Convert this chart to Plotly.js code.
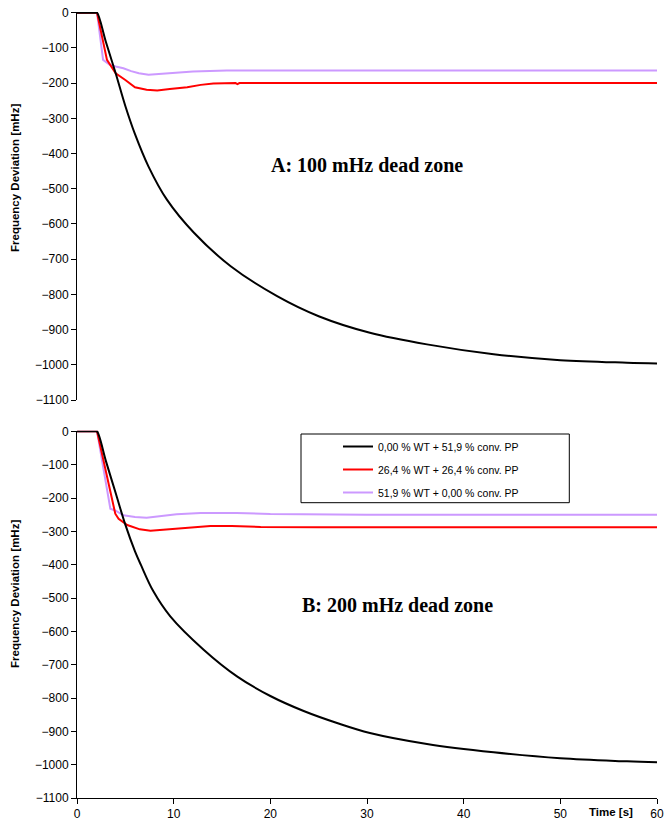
<!DOCTYPE html>
<html>
<head>
<meta charset="utf-8">
<script src="https://cdn.plot.ly/plotly-3.0.1.min.js"></script>
<style>
  html, body { margin: 0; padding: 0; background: #ffffff; }
  #chart { width: 664px; height: 825px; }
</style>
</head>
<body>
<div id="chart"></div>
<script>
// ---- Data ----
const seriesNames = [
  "0,00 % WT + 51,9 % conv. PP",
  "26,4 % WT + 26,4 % conv. PP",
  "51,9 % WT + 0,00 % conv. PP"
];
const panelLabels = ["A: 100 mHz dead zone", "B: 200 mHz dead zone"];
const yTitle = "Frequency Deviation [mHz]";
const xTitle = "Time [s]";

// Panel A (100 mHz dead zone)
const tBlackA = [0, 1.9, 2.07, 3, 4, 5, 6, 7.4, 9.3, 12.1, 15.9, 20.7, 25, 30.3, 36.2, 43.1, 50, 56.9, 60];
const vBlackA = [0, 0, 0, -84, -172, -265, -345, -437, -531, -625, -720, -805, -862, -909, -942, -970, -987, -994, -996];
const tRedA = [0, 2.07, 3.1, 3.5, 4, 5, 6, 7.2, 8.3, 9.6, 11.4, 12.8, 14.1, 16.4, 16.6, 16.8, 19, 60];
const vRedA = [0, 0, -134, -152, -172, -191, -212, -219, -221, -217, -212, -205, -201, -200, -203, -200, -200, -200];
const tPurpleA = [0, 2.07, 2.7, 3.4, 4, 4.8, 5.6, 6.4, 7.4, 8.5, 9.3, 12, 15.5, 60];
const vPurpleA = [0, 0, -134, -148, -153, -158, -166, -172, -176, -174, -172, -167, -164, -164];

// Panel B (200 mHz dead zone)
const tBlackB = [0, 1.9, 2.07, 3, 4, 5, 6, 6.6, 7.9, 9.65, 13.1, 16.55, 20, 23.45, 26.9, 30.3, 36.2, 43.1, 50, 56.9, 60];
const vBlackB = [0, 0, 0, -90, -185, -280, -360, -400, -480, -555, -655, -735, -794, -839, -875, -905, -938, -963, -981, -990, -993];
const tRedB = [0, 2.07, 3.96, 4.3, 5.2, 6.5, 7.6, 9.6, 12, 13.8, 16, 19, 25, 60];
const vRedB = [0, 0, -247, -262, -281, -294, -298, -294, -288, -284, -284, -287, -288, -288];
const tPurpleB = [0, 2.07, 3.45, 4, 4.8, 6, 7.2, 8.6, 10.3, 12.8, 16.5, 20, 30, 60];
const vPurpleB = [0, 0, -232, -238, -252, -257, -259, -255, -249, -245, -245, -248, -250, -250];

const colors = ["#000000", "#FF0000", "#CC99FF"];
const ARIAL = 'Arial, "Liberation Sans", sans-serif';
const TIMES = '"Times New Roman", "Liberation Serif", serif';

function tr(x, y, i, xa, ya, showLegend, smooth) {
  const line = { color: colors[i], width: 2 };
  if (smooth) { line.shape = "spline"; line.smoothing = 1; }
  return {
    x: x, y: y, type: "scatter", mode: "lines",
    name: seriesNames[i], legendgroup: "g" + i, legendrank: i + 1,
    showlegend: showLegend, xaxis: xa, yaxis: ya,
    line: line, hoverinfo: "skip"
  };
}

const data = [
  tr(tPurpleA, vPurpleA, 2, "x2", "y2", false, false),
  tr(tRedA, vRedA, 1, "x2", "y2", false, false),
  tr(tBlackA, vBlackA, 0, "x2", "y2", false, true),
  tr(tPurpleB, vPurpleB, 2, "x", "y", true, false),
  tr(tRedB, vRedB, 1, "x", "y", true, false),
  tr(tBlackB, vBlackB, 0, "x", "y", true, true)
];

// pixel helpers (plot area: x 77..657, y 12..798)
const L = 77, R = 657, T = 12, B = 798;
const px = v => (v - L) / (R - L);
const py = v => (B - v) / (B - T);

const yAxisCommon = {
  range: [-1100, 2], dtick: 100, tick0: 0,
  showline: true, linecolor: "#000", linewidth: 1,
  ticks: "outside", ticklen: 5, tickcolor: "#000", tickwidth: 1,
  showgrid: false, zeroline: false,
  tickfont: { family: ARIAL, size: 12, color: "#000" }
};

const layout = {
  width: 664, height: 825,
  margin: { l: L, r: 664 - R, t: T, b: 825 - B },
  paper_bgcolor: "#ffffff", plot_bgcolor: "#ffffff",
  showlegend: true,
  xaxis: {
    domain: [0, 1], anchor: "y", range: [0, 60], dtick: 10, tick0: 0,
    showline: true, linecolor: "#000", linewidth: 1,
    ticks: "outside", ticklen: 5, tickcolor: "#000",
    showgrid: false, zeroline: false,
    tickfont: { family: ARIAL, size: 12, color: "#000" }
  },
  xaxis2: {
    domain: [0, 1], anchor: "y2", matches: "x", range: [0, 60],
    showline: false, ticks: "", showticklabels: false,
    showgrid: false, zeroline: false
  },
  yaxis: Object.assign({ domain: [0, py(430.7)] }, yAxisCommon),
  yaxis2: Object.assign({ domain: [py(400), 1] }, yAxisCommon),
  legend: {
    x: px(338), y: py(432), xanchor: "left", yanchor: "top",
    bgcolor: "rgba(0,0,0,0)", borderwidth: 0,
    tracegroupgap: 4,
    font: { family: ARIAL, size: 10.5, color: "#000" }
  },
  shapes: [{
    type: "rect", xref: "paper", yref: "paper",
    x0: px(301), x1: px(569.3), y0: py(502.7), y1: py(434),
    line: { color: "#000", width: 1 }, fillcolor: "#ffffff", layer: "below"
  }],
  annotations: [
    { text: "<b>" + panelLabels[0] + "</b>", xref: "paper", yref: "paper",
      x: px(366.7), y: py(165), xanchor: "center", yanchor: "middle", showarrow: false,
      font: { family: TIMES, size: 20, color: "#000" } },
    { text: "<b>" + panelLabels[1] + "</b>", xref: "paper", yref: "paper",
      x: px(397.5), y: py(605), xanchor: "center", yanchor: "middle", showarrow: false,
      font: { family: TIMES, size: 20, color: "#000" } },
    { text: "<b>" + yTitle + "</b>", xref: "paper", yref: "paper",
      x: px(15), y: py(178), xanchor: "center", yanchor: "middle", showarrow: false,
      textangle: -90, font: { family: ARIAL, size: 11.5, color: "#000" } },
    { text: "<b>" + yTitle + "</b>", xref: "paper", yref: "paper",
      x: px(15), y: py(594), xanchor: "center", yanchor: "middle", showarrow: false,
      textangle: -90, font: { family: ARIAL, size: 11.5, color: "#000" } },
    { text: "<b>" + xTitle + "</b>", xref: "paper", yref: "paper",
      x: px(611), y: py(812), xanchor: "center", yanchor: "middle", showarrow: false,
      font: { family: ARIAL, size: 11.5, color: "#000" } }
  ]
};

Plotly.newPlot("chart", data, layout, { staticPlot: true, displayModeBar: false });
</script>
</body>
</html>
